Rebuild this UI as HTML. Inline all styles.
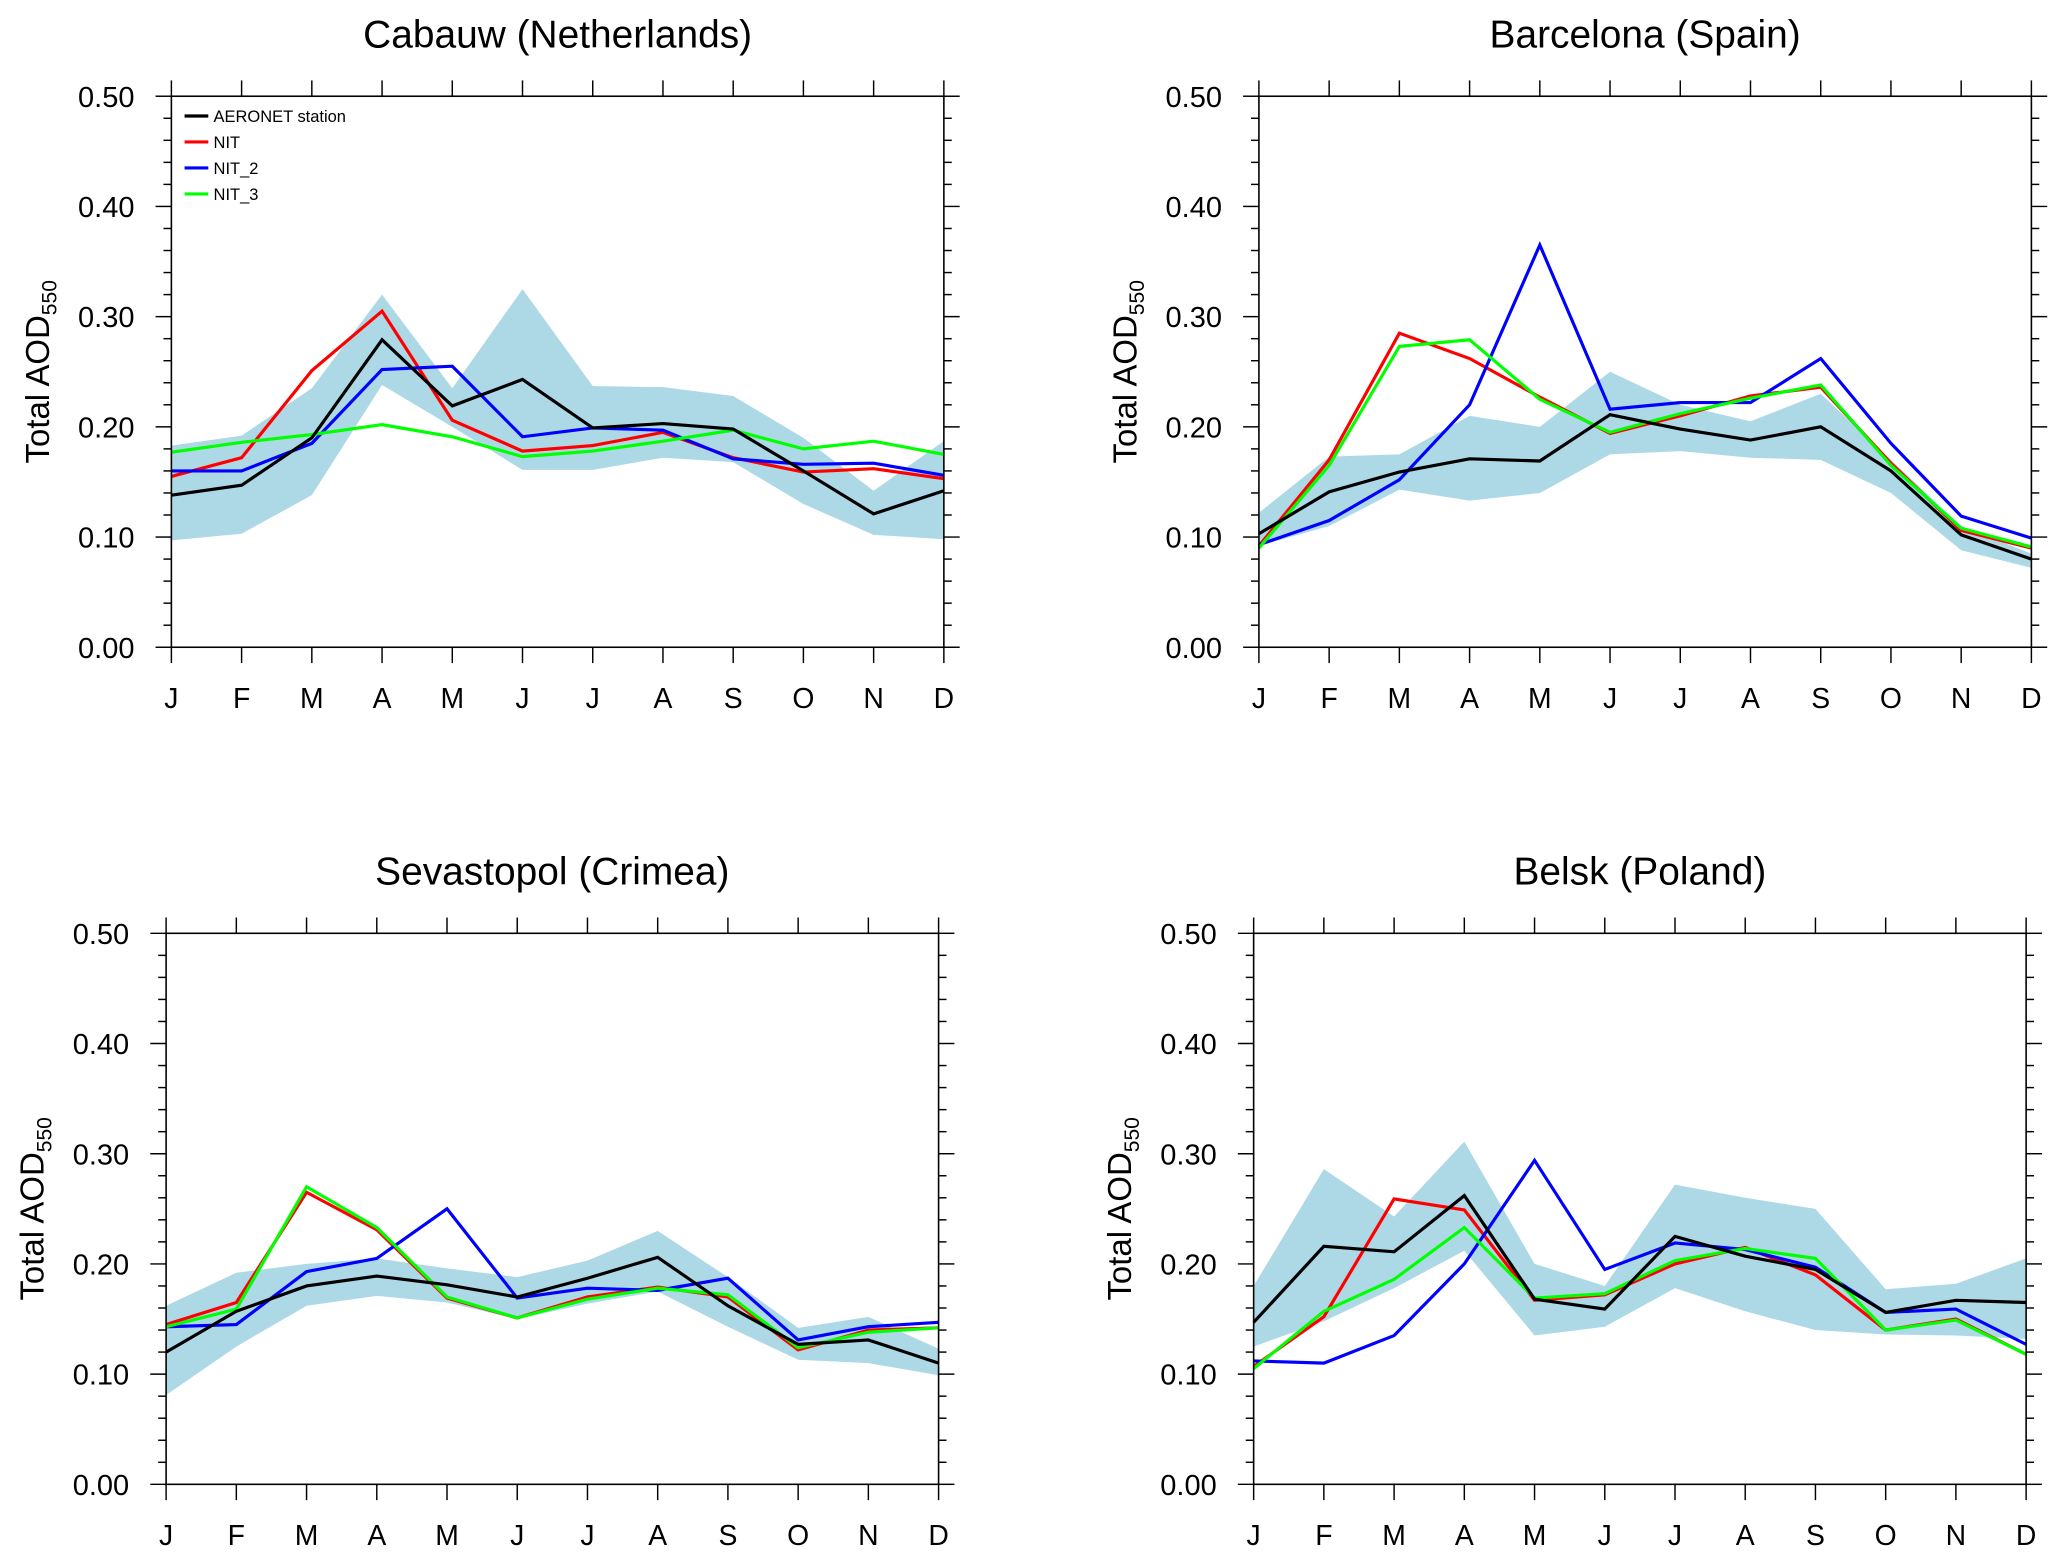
<!DOCTYPE html>
<html><head><meta charset="utf-8"><style>
html,body{margin:0;padding:0;background:#fff}
svg{display:block}
text{font-family:"Liberation Sans",sans-serif;fill:#000}
</style></head><body>
<svg id="chart" width="2067" height="1565" viewBox="0 0 1568 1187.2" xmlns="http://www.w3.org/2000/svg"></svg>
<script>
const months = ["J","F","M","A","M","J","J","A","S","O","N","D"];
const yTicks = [0,0.1,0.2,0.3,0.4,0.5];
const stationNames = ["Cabauw (Netherlands)","Barcelona (Spain)","Sevastopol (Crimea)","Belsk (Poland)"];
const aeronet = [
 [.138,.147,.19,.279,.219,.243,.199,.203,.198,.16,.121,.142],
 [.103,.141,.159,.171,.169,.211,.198,.188,.2,.16,.102,.08],
 [.12,.157,.18,.189,.181,.17,.187,.206,.162,.127,.131,.11],
 [.147,.216,.211,.262,.168,.159,.225,.207,.195,.156,.167,.165]];
const nit = [
 [.155,.172,.251,.305,.206,.178,.183,.195,.172,.159,.162,.153],
 [.092,.17,.285,.262,.227,.194,.21,.228,.236,.167,.106,.09],
 [.145,.165,.265,.231,.169,.151,.17,.179,.17,.122,.14,.142],
 [.107,.152,.259,.249,.167,.172,.2,.215,.19,.14,.15,.118]];
const nit2 = [
 [.16,.16,.185,.252,.255,.191,.199,.197,.171,.166,.167,.156],
 [.093,.115,.152,.22,.365,.216,.222,.222,.262,.185,.119,.099],
 [.143,.145,.193,.205,.25,.169,.178,.176,.187,.131,.143,.147],
 [.112,.11,.135,.2,.294,.195,.219,.213,.197,.156,.159,.127]];
const nit3 = [
 [.177,.186,.193,.202,.191,.173,.178,.187,.197,.18,.187,.175],
 [.09,.165,.273,.279,.225,.195,.212,.226,.238,.165,.108,.091],
 [.143,.159,.27,.233,.17,.151,.168,.178,.172,.124,.138,.142],
 [.105,.157,.186,.233,.169,.173,.203,.214,.205,.14,.149,.118]];
const bandUpper = [
 [.183,.192,.235,.32,.235,.325,.237,.236,.228,.19,.142,.187],
 [.122,.173,.175,.21,.2,.25,.22,.205,.23,.17,.11,.085],
 [.162,.192,.2,.205,.196,.188,.203,.23,.188,.142,.152,.123],
 [.18,.286,.243,.311,.2,.18,.272,.26,.25,.177,.182,.205]];
const bandLower = [
 [.097,.103,.138,.238,.2,.161,.161,.172,.168,.13,.102,.098],
 [.092,.11,.143,.133,.14,.175,.178,.172,.17,.14,.088,.072],
 [.081,.125,.162,.171,.165,.15,.164,.175,.143,.113,.11,.099],
 [.125,.148,.178,.212,.135,.143,.178,.157,.14,.136,.135,.132]];
const seriesNames = ["AERONET station","NIT","NIT_2","NIT_3"];
const seriesColors = ["#000000","#ff0000","#0000ff","#00ff00"];

const NS="http://www.w3.org/2000/svg";
const svg=document.getElementById('chart');
function mk(tag,attrs,parent){const e=document.createElementNS(NS,tag);for(const k in attrs)e.setAttribute(k,attrs[k]);(parent||svg).appendChild(e);return e;}
const panels=[{x0:130,y0:73},{x0:955,y0:73},{x0:126,y0:708},{x0:951,y0:708}];
const W=586,H=418,YMAX=0.5;
panels.forEach((p,pi)=>{
  const g=mk('g',{});
  
  
  const xs=i=>p.x0+i*W/(months.length-1);
  const ys=v=>p.y0+H-v/YMAX*H;
  let d='';bandUpper[pi].forEach((v,i)=>{d+=(i?'L':'M')+xs(i)+','+ys(v);});
  for(let i=bandLower[pi].length-1;i>=0;i--)d+='L'+xs(i)+','+ys(bandLower[pi][i]);
  const band=mk('path',{d:d+'Z',fill:'#add8e6',stroke:'none'},g);
  
  
  [nit[pi],nit2[pi],nit3[pi],aeronet[pi]].forEach((arr,k)=>{
    const idx=[1,2,3,0][k];
    const pts=arr.map((v,i)=>xs(i)+','+ys(v)).join(' ');
    const l=mk('polyline',{points:pts,fill:'none',stroke:seriesColors[idx],'stroke-width':2.4,'stroke-linejoin':'miter'},g);
    
    
  });
  const fr=mk('rect',{x:p.x0,y:p.y0,width:W,height:H,fill:'none',stroke:'#000','stroke-width':1.2},g);
  
  
  for(let m=0;m<=25;m++){
    const v=m*0.02,y=ys(v),len=(m%5===0)?12:6;
    mk('line',{x1:p.x0-len,y1:y,x2:p.x0,y2:y,stroke:'#000','stroke-width':1.1},g);
    mk('line',{x1:p.x0+W,y1:y,x2:p.x0+W+len,y2:y,stroke:'#000','stroke-width':1.1},g);
  }
  yTicks.forEach(v=>{
    const t=mk('text',{x:p.x0-28,y:ys(v)+8,'font-size':22,'text-anchor':'end'},g);
    t.textContent=v.toFixed(2);
    
    
  });
  months.forEach((m,i)=>{
    mk('line',{x1:xs(i),y1:p.y0-12,x2:xs(i),y2:p.y0,stroke:'#000','stroke-width':1.1},g);
    mk('line',{x1:xs(i),y1:p.y0+H,x2:xs(i),y2:p.y0+H+12,stroke:'#000','stroke-width':1.1},g);
    const t=mk('text',{x:xs(i),y:p.y0+H+46,'font-size':21.5,'text-anchor':'middle'},g);
    t.textContent=m;
    
    
  });
  const tt=mk('text',{x:p.x0+W/2,y:p.y0-37,'font-size':29.5,'text-anchor':'middle'},g);
  tt.textContent=stationNames[pi];
  
  
  const yt=mk('text',{x:0,y:0,'font-size':25,'text-anchor':'middle',transform:`translate(${p.x0-93},${p.y0+H/2}) rotate(-90)`},g);
  
  
  yt.textContent='Total AOD';
  const sub=mk('tspan',{'font-size':16,dy:6},yt);sub.textContent='550';
  if(pi===0){
    const lg=mk('g',{},g);
    
    
    seriesNames.forEach((n,k)=>{
      const y=88+k*19.7;
      mk('line',{x1:140,y1:y,x2:158,y2:y,stroke:seriesColors[k],'stroke-width':2.4},lg);
      const t=mk('text',{x:162,y:y+4.5,'font-size':12.5},lg);
      t.textContent=n;
      
      
    });
  }
});
</script>
</body></html>
